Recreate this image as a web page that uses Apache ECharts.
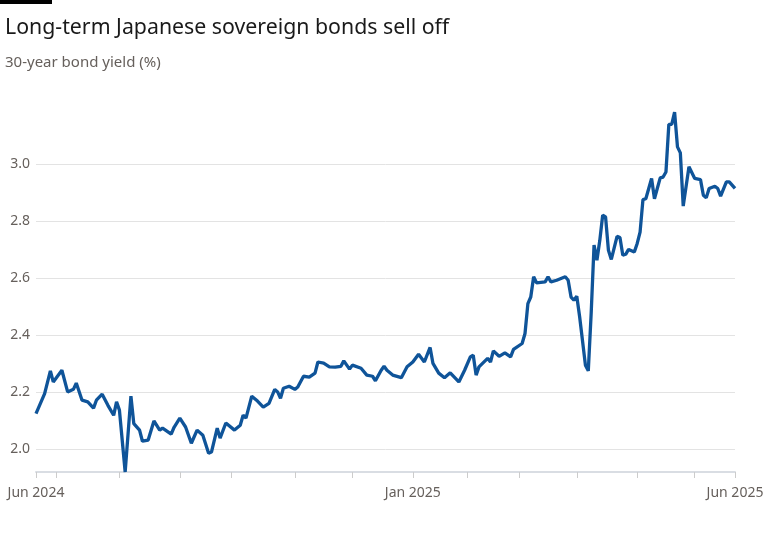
<!DOCTYPE html>
<html><head><meta charset="utf-8">
<script src="https://cdn.jsdelivr.net/npm/echarts@6/dist/echarts.min.js"></script>
<style>html,body{margin:0;padding:0;background:#fff}#c{width:768px;height:549px}</style>
</head><body><div id="c"></div>
<script>
// trading-day index since mid-June 2024
const days = [0,3,5,6,9,11,13,14,16,18,20,21,23,25,27,28,29,31,33,34,36,37,39,41,43,44,47,48,50,52,54,56,58,60,61,63,64,66,69,71,72,73,75,77,79,81,83,84,85,86,88,90,91,93,95,97,98,100,102,104,106,107,109,110,113,115,117,118,120,121,
122,124,127,129,131,133,135,137,138,140,142,144,147,149,151,152,153,154,157,158,159,161,163,165,166,169,170,171,172,173,174,177,178,179,181,184,185,186,187,188,189,191,192,193,194,195,196,197,198,199,200,202,203,204,205,206,208,209,210,211,212,214,215,217,218,219,220,221,222,223,224,225,227,229,231,232,233,234,236,237,238,240,241,243];
const yields = [2.125,2.195,2.275,2.236,2.277,2.201,2.21,2.232,2.172,2.166,2.144,2.172,2.193,2.154,2.119,2.166,2.137,1.92,2.186,2.09,2.067,2.028,2.032,2.099,2.067,2.074,2.053,2.077,2.109,2.078,2.021,2.067,2.049,1.986,1.99,2.074,2.039,2.092,2.067,2.084,2.119,2.109,2.186,2.169,2.148,2.161,2.21,2.201,2.179,2.214,2.221,2.21,2.218,2.256,2.253,2.267,2.306,2.302,2.289,2.288,2.291,2.31,2.281,2.295,2.284,2.26,2.256,2.24,2.277,2.291,
2.277,2.26,2.251,2.289,2.306,2.333,2.306,2.357,2.301,2.267,2.251,2.268,2.236,2.277,2.324,2.33,2.26,2.289,2.319,2.306,2.345,2.326,2.338,2.324,2.35,2.371,2.406,2.511,2.534,2.605,2.584,2.587,2.605,2.587,2.593,2.605,2.593,2.534,2.523,2.537,2.464,2.295,2.275,2.477,2.716,2.663,2.733,2.821,2.815,2.698,2.666,2.747,2.743,2.681,2.684,2.701,2.692,2.722,2.762,2.876,2.879,2.95,2.879,2.952,2.955,2.973,3.14,3.14,3.183,3.061,3.04,2.853,2.991,2.95,2.946,2.891,2.882,2.915,2.923,2.915,2.888,2.938,2.938,2.915];
const monthStarts = [0,7,29,50,68,90,110,131,150,168,188,209,229,243];
const tickLabels = {0:'Jun 2024',131:'Jan 2025',243:'Jun 2025'};
const yTicks = [2.0,2.2,2.4,2.6,2.8,3.0];

const chart = echarts.init(document.getElementById('c'));
chart.setOption({
  animation:false,
  title:[
    {text:'Long-term Japanese sovereign bonds sell off',left:0,top:12,textStyle:{fontFamily:'Noto Sans',fontSize:21.3,fontWeight:'normal',color:'#1a1a1a'}},
    {text:'30-year bond yield (%)',left:0,top:50,textStyle:{fontFamily:'Noto Sans',fontSize:15,fontWeight:'normal',color:'#66605c'}}
  ],
  graphic:[{type:'rect',left:0,top:0,shape:{width:52,height:4},style:{fill:'#000'}}],
  grid:{left:36,right:33,top:93,bottom:77},
  xAxis:{type:'value',min:0,max:243,
    axisLine:{show:true,lineStyle:{color:'#d9dde3',width:2}},
    splitLine:{show:false},
    axisTick:{show:true,customValues:monthStarts,length:6,lineStyle:{color:'#cccccc'}},
    axisLabel:{customValues:[0,131,243],formatter:v=>tickLabels[v]||'',fontFamily:'Noto Sans',fontSize:14,color:'#66605c',margin:14,showMinLabel:true,showMaxLabel:true}
  },
  yAxis:{type:'value',min:1.92,max:3.25,
    axisLine:{show:false},axisTick:{show:false},splitLine:{show:false},
    axisLabel:{customValues:yTicks,formatter:v=>v.toFixed(1),fontFamily:'Noto Sans',fontSize:14,color:'#66605c',margin:6}
  },
  series:[{type:'line',data:days.map((d,i)=>[d,yields[i]]),showSymbol:false,
    lineStyle:{color:'#0f5499',width:3.3},
    markLine:{silent:true,symbol:'none',label:{show:false},z:1,
      lineStyle:{color:'#e3e3e3',type:'solid',width:1},
      data:yTicks.map(v=>({yAxis:v}))}
  }]
});
</script></body></html>
